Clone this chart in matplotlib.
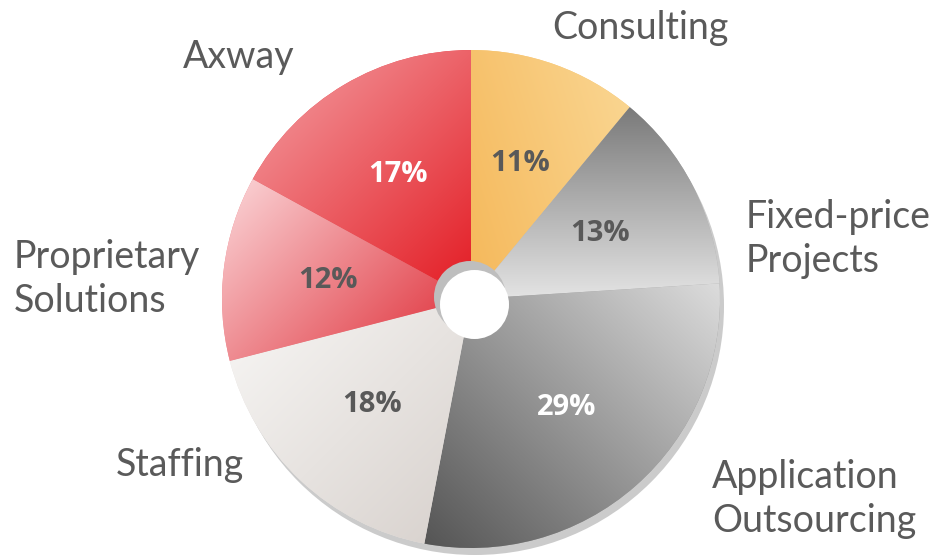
import numpy as np
import matplotlib.pyplot as plt
from matplotlib.patches import Circle
from matplotlib.colors import to_rgb

# data
segments = ['Consulting', 'Fixed-price\nProjects', 'Application\nOutsourcing',
            'Staffing', 'Proprietary\nSolutions', 'Axway']
shares = [11, 13, 29, 18, 12, 17]

# gradient start/end colours and direction for each slice
grad_from = ['#F5B85A', '#7A7A7A', '#555555', '#F4F2F0', '#F9CBCE', '#F08287']
grad_to = ['#FAD590', '#E4E4E4', '#DCDCDC', '#DAD4D0', '#E2414A', '#E31A22']
grad_dir = [(1, 0.3), (0, -1), (1, 1), (1, -1), (1, -1), (1, -1)]
pct_colors = ['#595959', '#595959', 'white', '#595959', '#595959', 'white']

# label positions in pixels (left x, center y) measured from the top
label_pos = [(552, 28), (746, 239), (712, 499), (116, 465), (14, 279), (183, 57)]

W, H = 939, 557
cx, cy, R = 471, H - 299, 249

fig = plt.figure(figsize=(W / 100, H / 100), dpi=100)
ax = fig.add_axes([0, 0, 1, 1])

# drop shadow
ax.add_patch(Circle((cx + 4, cy - 7), R, color='#CBCBCB', lw=0, zorder=0))

wedges, _, pcts = ax.pie(shares, startangle=90, counterclock=False, radius=R,
                         center=(cx, cy), autopct='%d%%', pctdistance=0.58,
                         wedgeprops=dict(linewidth=0),
                         textprops=dict(fontsize=21, fontweight='bold',
                                        family='Open Sans'))

n = 600
xs = np.linspace(cx - R, cx + R, n)
ys = np.linspace(cy - R, cy + R, n)
X, Y = np.meshgrid(xs, ys)

for i, w in enumerate(wedges):
    c0 = np.array(to_rgb(grad_from[i]))
    c1 = np.array(to_rgb(grad_to[i]))
    d = np.array(grad_dir[i], dtype=float)
    d /= np.linalg.norm(d)
    v = w.get_path().vertices
    p = v[:, 0] * d[0] + v[:, 1] * d[1]
    t = (X * d[0] + Y * d[1] - p.min()) / (p.max() - p.min())
    t = np.clip(t, 0, 1)[..., None]
    img = c0 + t * (c1 - c0)
    w.set_facecolor((c0 + c1) / 2)
    w.set_zorder(1)
    im = ax.imshow(img, extent=[cx - R, cx + R, cy - R, cy + R], origin='lower',
                   interpolation='bilinear', zorder=2)
    im.set_clip_path(w)
    pcts[i].set_color(pct_colors[i])
    pcts[i].set_zorder(4)

# centre hole with inner shadow
ax.add_patch(Circle((cx - 1, cy + 2), 36, color='#BEBEBE', lw=0, zorder=3))
ax.add_patch(Circle((cx + 3.5, cy - 5.5), 34.5, color='white', lw=0, zorder=3))

for i, lab in enumerate(segments):
    x, y = label_pos[i]
    ax.text(x, H - y, lab, ha='left', va='center', fontsize=27, family='Lato',
            color='#5A5A5A', linespacing=1.28, zorder=4)

ax.set_xlim(0, W)
ax.set_ylim(0, H)
ax.set_aspect('auto')
ax.axis('off')

fig.savefig('out.png', dpi=100)
